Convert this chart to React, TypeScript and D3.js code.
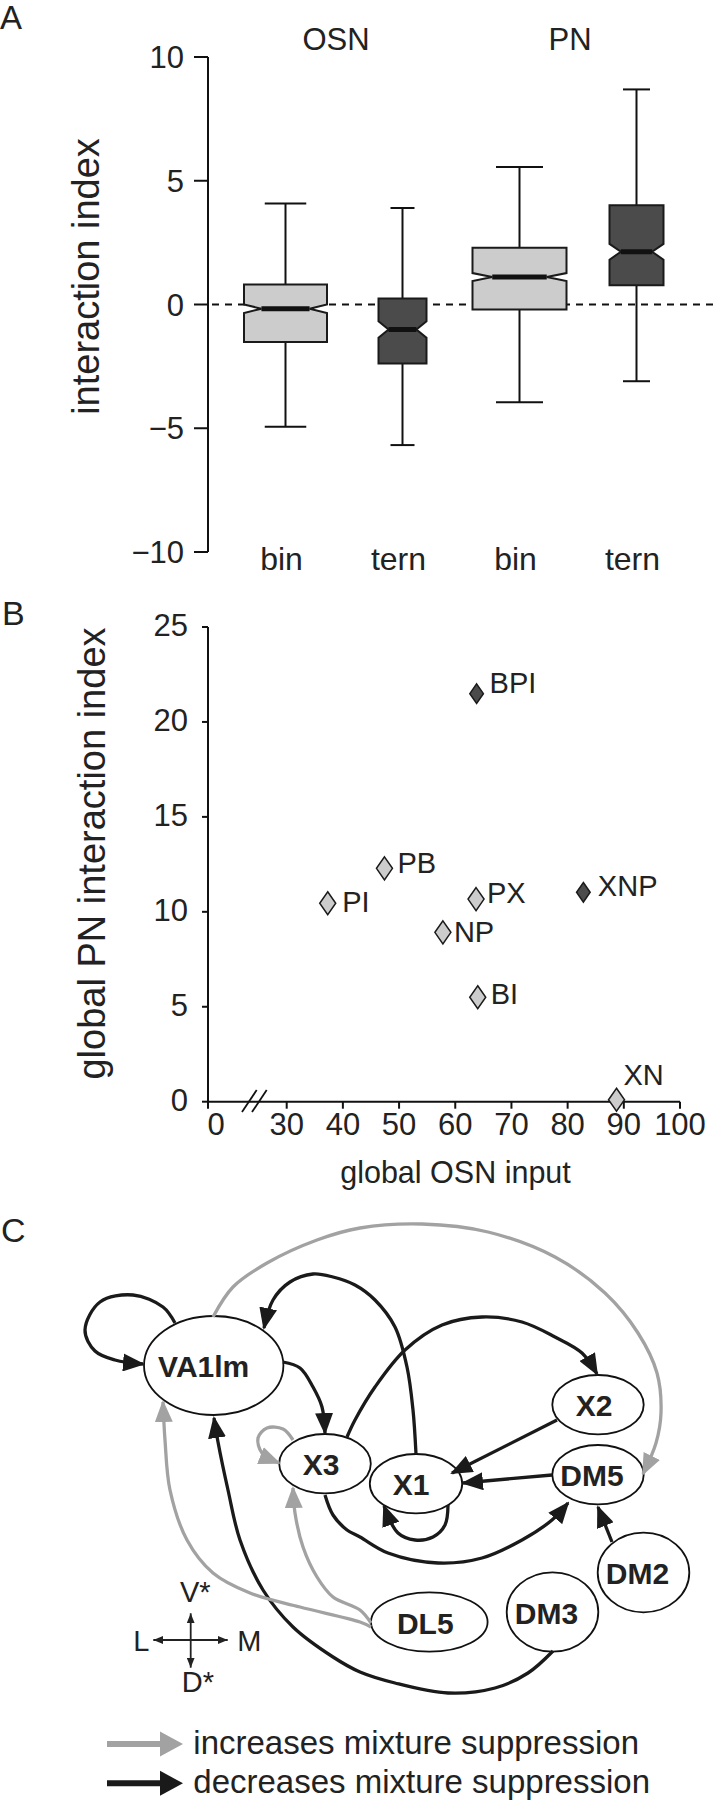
import React from 'react';
import * as d3 from 'd3';

// ---------- Panel A data ----------
const groups = ['OSN', 'PN'];
const categories = ['bin', 'tern', 'bin', 'tern'];
const whiskerLow = [-4.94, -5.68, -3.95, -3.1];
const q1 = [-1.52, -2.38, -0.2, 0.78];
const median = [-0.17, -1.01, 1.11, 2.13];
const q3 = [0.81, 0.24, 2.29, 4.01];
const whiskerHigh = [4.08, 3.9, 5.56, 8.69];
const notchLow = [-0.34, -1.34, 0.95, 1.81];
const notchHigh = [0.0, -0.68, 1.27, 2.45];
const yTicksA = [-10, -5, 0, 5, 10];

// ---------- Panel B data ----------
const mixtures = ['BPI', 'PB', 'PI', 'PX', 'NP', 'XNP', 'BI', 'XN'];
const osnInput = [63.8, 47.4, 37.3, 63.7, 57.8, 82.8, 64.0, 88.7];
const pnIndex = [21.49, 12.29, 10.45, 10.67, 8.92, 11.03, 5.5, 0.1];
const mixtureType = ['ternary', 'binary', 'binary', 'binary', 'binary', 'ternary', 'binary', 'binary'];
const xTicksB = [0, 30, 40, 50, 60, 70, 80, 90, 100];
const yTicksB = [0, 5, 10, 15, 20, 25];

// ---------- Panel C data ----------
const glomeruli = ['VA1lm', 'X3', 'X1', 'X2', 'DM5', 'DM2', 'DM3', 'DL5'];
const interactions: [string, string, string][] = [
  ['VA1lm', 'VA1lm', 'decreases'],
  ['VA1lm', 'DM5', 'increases'],
  ['X1', 'VA1lm', 'decreases'],
  ['VA1lm', 'X3', 'decreases'],
  ['X3', 'X3', 'increases'],
  ['X3', 'X2', 'decreases'],
  ['X2', 'X1', 'decreases'],
  ['DM5', 'X1', 'decreases'],
  ['X1', 'X1', 'decreases'],
  ['X3', 'DM5', 'decreases'],
  ['DM2', 'DM5', 'decreases'],
  ['DM3', 'VA1lm', 'decreases'],
  ['DL5', 'VA1lm', 'increases'],
  ['DL5', 'X3', 'increases'],
];
const effects = ['increases', 'decreases'];
const effectLabels = ['increases mixture suppression', 'decreases mixture suppression'];

// ---------- layout / style (not data) ----------
const FONT = "'Liberation Sans', Arial, Helvetica, sans-serif";
const TXT = '#222';
const LIGHT = '#cccccc';
const DARK = '#4b4b4b';
const GRAYEDGE = '#a2a2a2';
const BLACKEDGE = '#1a1a1a';
const boxWidths = [83, 48, 94, 54];
const labelNudge: Record<string, [number, number]> = {
  BPI: [13, -1], PB: [13, 4.5], PI: [14.5, 8.5], PX: [11, 4],
  NP: [11, 9.5], XNP: [14.5, 3.5], BI: [13, 7], XN: [7, -15],
};
// cx, cy, rx, ry, label dx
const nodeLayout: Record<string, [number, number, number, number, number]> = {
  VA1lm: [213.7, 1365.5, 69.7, 49.5, -10],
  X3: [325, 1463.7, 45.8, 29.7, -4],
  X1: [416, 1483.7, 46.2, 29.7, -5],
  X2: [598, 1404.7, 45.7, 29.7, -4],
  DM5: [598, 1474.7, 45.7, 29.7, -6],
  DM2: [643.5, 1572.5, 45.8, 39.8, -6],
  DM3: [552.5, 1612, 45.8, 39.7, -6],
  DL5: [429.3, 1622, 58.3, 29.7, -4],
};
const edgeRoutes: [number, number][][] = [
  [[175, 1323], [163, 1307], [133, 1295], [100, 1302], [85, 1330], [95, 1351], [115, 1360], [143, 1364]],
  [[213, 1317], [233, 1287], [267, 1263], [317, 1240], [360, 1228], [422, 1224], [488, 1232], [555, 1257], [605, 1293], [638, 1333], [657, 1373], [661, 1413], [656, 1443], [643, 1474]],
  [[416, 1454], [413, 1410], [407, 1367], [395, 1327], [375, 1300], [355, 1285], [333, 1277], [313, 1274], [290, 1282], [273, 1300], [264, 1328]],
  [[283, 1362], [300, 1368], [313, 1387], [322, 1407], [325, 1433]],
  [[293, 1440], [283, 1429], [267, 1428], [258, 1438], [262, 1453], [279, 1463]],
  [[347, 1437], [355, 1420], [375, 1387], [405, 1350], [442, 1325], [482, 1317], [522, 1322], [555, 1337], [582, 1353], [597, 1374]],
  [[557, 1420], [452, 1473]],
  [[552, 1475], [463, 1483]],
  [[448, 1505], [445, 1525], [433, 1537], [415, 1540], [398, 1533], [384, 1506]],
  [[325, 1495], [333, 1515], [347, 1530], [360, 1537], [388, 1553], [438, 1563], [482, 1558], [522, 1540], [552, 1520], [568, 1503]],
  [[612, 1542], [598, 1507]],
  [[553, 1651], [528, 1673], [495, 1688], [448, 1693], [395, 1683], [360, 1672], [333, 1657], [293, 1627], [263, 1590], [240, 1540], [228, 1490], [218, 1442], [214, 1418]],
  [[371, 1627], [360, 1622], [300, 1607], [250, 1593], [213, 1573], [187, 1540], [170, 1490], [165, 1440], [163, 1402]],
  [[371, 1623], [360, 1610], [333, 1597], [317, 1577], [303, 1547], [295, 1513], [293, 1488]],
];

export default function App() {
  // ----- Panel A scales -----
  const yA = d3.scaleLinear().domain([-10, 10]).range([552, 57]);
  const xA = d3.scalePoint<number>().domain(d3.range(categories.length)).range([285.5, 636.5]);
  const fmt = d3.format('d');
  const axisXA = 208;

  // ----- Panel B scales -----
  const xB = d3.scaleLinear().domain([0, 30, 100]).range([208, 286.7, 680]);
  const yB = d3.scaleLinear().domain([0, 25]).range([1101.7, 627]);

  const line = d3.line<[number, number]>().curve(d3.curveCatmullRom.alpha(0.5));

  const groupCenters = groups.map((g, gi) => {
    const idx = categories.map((_, i) => i).filter((i) => Math.floor(i / 2) === gi);
    return d3.mean(idx.map((i) => xA(i) as number)) as number;
  });

  return (
    <svg width={715} height={1800} style={{ position: 'absolute', left: 0, top: 0, background: '#fff' }} fontFamily={FONT}>
      <defs>
        <marker id="arrow-decreases" viewBox="0 0 22 18" refX={20} refY={9} markerWidth={22} markerHeight={18} markerUnits="userSpaceOnUse" orient="auto">
          <path d="M0,0L22,9L0,18Z" fill={BLACKEDGE} />
        </marker>
        <marker id="arrow-increases" viewBox="0 0 22 18" refX={20} refY={9} markerWidth={22} markerHeight={18} markerUnits="userSpaceOnUse" orient="auto">
          <path d="M0,0L22,9L0,18Z" fill={GRAYEDGE} />
        </marker>
        <marker id="arrow-small" viewBox="0 0 10 8" refX={10} refY={4} markerWidth={10} markerHeight={8} markerUnits="userSpaceOnUse" orient="auto-start-reverse">
          <path d="M0,0L10,4L0,8Z" fill="#222" />
        </marker>
      </defs>
      <rect x={0} y={0} width={715} height={1800} fill="#fff" />

      {/* ================= Panel A ================= */}
      <text x={0} y={29} fontSize={33} fill={TXT}>A</text>
      {groups.map((g, gi) => (
        <text key={g} x={groupCenters[gi] - 8} y={50} fontSize={31} textAnchor="middle" fill={TXT}>{g}</text>
      ))}
      <text transform={`translate(99,276.5) rotate(-90)`} fontSize={38} textAnchor="middle" fill={TXT}>interaction index</text>
      <line x1={axisXA} x2={axisXA} y1={yA(10)} y2={yA(-10)} stroke="#111" strokeWidth={2} />
      {yTicksA.map((t) => (
        <g key={t}>
          <line x1={axisXA - 14} x2={axisXA} y1={yA(t)} y2={yA(t)} stroke="#111" strokeWidth={2} />
          <text x={184} y={yA(t)} dy="0.36em" fontSize={31} textAnchor="end" fill={TXT}>{fmt(t)}</text>
        </g>
      ))}
      <line x1={axisXA + 4} x2={715} y1={yA(0)} y2={yA(0)} stroke="#111" strokeWidth={2} strokeDasharray="7,6" />
      {categories.map((c, i) => {
        const cx = xA(i) as number;
        const w = boxWidths[i];
        const k = w * 0.21;
        const L = cx - w / 2, R = cx + w / 2;
        const pts: [number, number][] = [
          [L, yA(q3[i])], [R, yA(q3[i])], [R, yA(notchHigh[i])], [R - k, yA(median[i])], [R, yA(notchLow[i])],
          [R, yA(q1[i])], [L, yA(q1[i])], [L, yA(notchLow[i])], [L + k, yA(median[i])], [L, yA(notchHigh[i])],
        ];
        const poly = d3.line()(pts) + 'Z';
        const capW = w * 0.5;
        return (
          <g key={i}>
            <line x1={cx} x2={cx} y1={yA(whiskerHigh[i])} y2={yA(q3[i])} stroke="#111" strokeWidth={2} />
            <line x1={cx} x2={cx} y1={yA(q1[i])} y2={yA(whiskerLow[i])} stroke="#111" strokeWidth={2} />
            <line x1={cx - capW / 2} x2={cx + capW / 2} y1={yA(whiskerHigh[i])} y2={yA(whiskerHigh[i])} stroke="#111" strokeWidth={2} />
            <line x1={cx - capW / 2} x2={cx + capW / 2} y1={yA(whiskerLow[i])} y2={yA(whiskerLow[i])} stroke="#111" strokeWidth={2} />
            <path d={poly} fill={c === 'bin' ? LIGHT : DARK} stroke="#1a1a1a" strokeWidth={2} />
            <line x1={L + k} x2={R - k} y1={yA(median[i])} y2={yA(median[i])} stroke="#111" strokeWidth={5} />
            <text x={cx - 4} y={570} fontSize={32} textAnchor="middle" fill={TXT}>{c}</text>
          </g>
        );
      })}

      {/* ================= Panel B ================= */}
      <text x={2} y={625} fontSize={34} fill={TXT}>B</text>
      <text transform={`translate(105,853.5) rotate(-90)`} fontSize={38} textAnchor="middle" fill={TXT}>global PN interaction index</text>
      <line x1={208} x2={208} y1={yB(25)} y2={yB(0)} stroke="#111" strokeWidth={2} />
      <line x1={208} x2={xB(100)} y1={yB(0)} y2={yB(0)} stroke="#111" strokeWidth={2} />
      {yTicksB.map((t) => (
        <g key={t}>
          <line x1={202} x2={208} y1={yB(t)} y2={yB(t)} stroke="#111" strokeWidth={2} />
          <text x={188} y={yB(t)} dy="0.3em" fontSize={31} textAnchor="end" fill={TXT}>{t}</text>
        </g>
      ))}
      {xTicksB.map((t, i) => (
        <g key={t}>
          <line x1={xB(t)} x2={xB(t)} y1={yB(0)} y2={yB(0) + 7} stroke="#111" strokeWidth={2} />
          <text x={xB(t) + (i === 0 ? 8 : 0)} y={1135} fontSize={31} textAnchor="middle" fill={TXT}>{t}</text>
        </g>
      ))}
      <line x1={242} y1={1112} x2={256.7} y2={1090} stroke="#111" strokeWidth={1.8} />
      <line x1={252} y1={1112} x2={266.7} y2={1090} stroke="#111" strokeWidth={1.8} />
      {mixtures.map((m, i) => {
        const px = xB(osnInput[i]);
        const py = yB(pnIndex[i]);
        const tern = mixtureType[i] === 'ternary';
        const w = tern ? 6.8 : 8;
        const h = tern ? 9.8 : 11.5;
        const d = `M${px},${py - h}L${px + w},${py}L${px},${py + h}L${px - w},${py}Z`;
        const [dx, dy] = labelNudge[m];
        return (
          <g key={m}>
            <path d={d} fill={tern ? DARK : LIGHT} stroke="#1a1a1a" strokeWidth={1.5} />
            <text x={px + dx} y={py + dy} fontSize={29} fill={TXT}>{m}</text>
          </g>
        );
      })}
      <text x={455.5} y={1183} fontSize={30.5} textAnchor="middle" fill={TXT}>global OSN input</text>

      {/* ================= Panel C ================= */}
      <text x={1} y={1242} fontSize={34} fill={TXT}>C</text>
      {glomeruli.map((g) => {
        const [cx, cy, rx, ry] = nodeLayout[g];
        return <ellipse key={g} cx={cx} cy={cy} rx={rx} ry={ry} fill="#fff" stroke="#111" strokeWidth={1.8} />;
      })}
      {interactions.map(([s, t, type], i) => (
        <path key={`${s}-${t}-${i}`} d={line(edgeRoutes[i]) as string} fill="none"
          stroke={type === 'increases' ? GRAYEDGE : BLACKEDGE} strokeWidth={3.3}
          markerEnd={`url(#arrow-${type})`} />
      ))}
      {glomeruli.map((g) => {
        const [cx, cy, , , ldx] = nodeLayout[g];
        return (
          <text key={g} x={cx + ldx} y={cy + 11.5} fontSize={30} fontWeight="bold" textAnchor="middle" fill={TXT}>{g}</text>
        );
      })}

      {/* compass */}
      <line x1={190.7} x2={153.3} y1={1640} y2={1640} stroke="#222" strokeWidth={1.8} markerEnd="url(#arrow-small)" />
      <line x1={190.7} x2={227.7} y1={1640} y2={1640} stroke="#222" strokeWidth={1.8} markerEnd="url(#arrow-small)" />
      <line x1={190.7} x2={190.7} y1={1640} y2={1613.3} stroke="#222" strokeWidth={1.8} markerEnd="url(#arrow-small)" />
      <line x1={190.7} x2={190.7} y1={1640} y2={1667.7} stroke="#222" strokeWidth={1.8} markerEnd="url(#arrow-small)" />
      <text x={180} y={1601.7} fontSize={29} fill={TXT}>V*</text>
      <text x={133.3} y={1650.5} fontSize={29} fill={TXT}>L</text>
      <text x={237.3} y={1650.5} fontSize={29} fill={TXT}>M</text>
      <text x={181.7} y={1691.7} fontSize={29} fill={TXT}>D*</text>

      {/* legend */}
      {effects.map((e, i) => {
        const y = 1744 + i * 39.3;
        const col = e === 'increases' ? GRAYEDGE : BLACKEDGE;
        return (
          <g key={e}>
            <line x1={107} x2={162} y1={y} y2={y} stroke={col} strokeWidth={6} />
            <path d={`M160,${y - 12.5}L183,${y}L160,${y + 12.5}Z`} fill={col} />
            <text x={193.3} y={y + 9.5} fontSize={33} fill={TXT}>{effectLabels[i]}</text>
          </g>
        );
      })}
    </svg>
  );
}
